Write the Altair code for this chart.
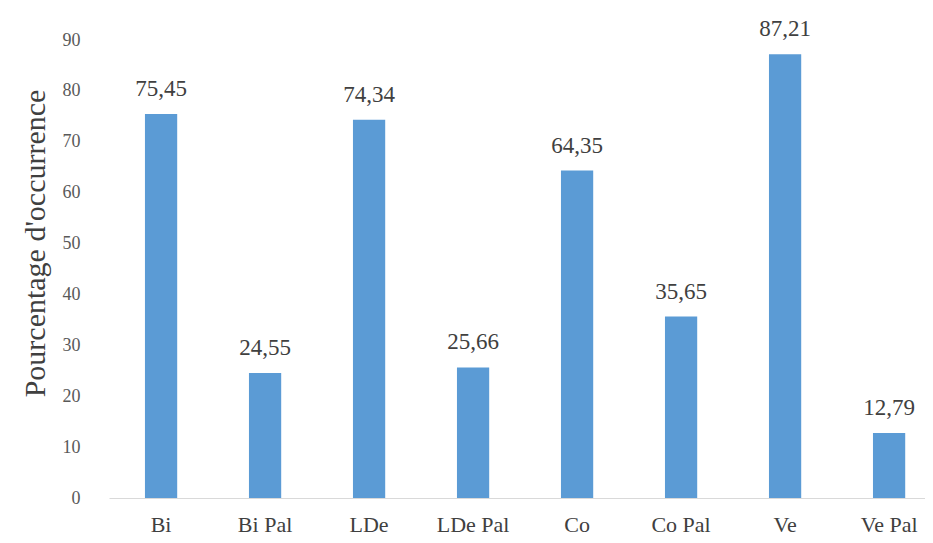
import altair as alt
import pandas as pd

categories = ["Bi", "Bi Pal", "LDe", "LDe Pal", "Co", "Co Pal", "Ve", "Ve Pal"]
values = [75.45, 24.55, 74.34, 25.66, 64.35, 35.65, 87.21, 12.79]
y_ticks = [0, 10, 20, 30, 40, 50, 60, 70, 80, 90]

df = pd.DataFrame({
    "cat": categories,
    "val": values,
    "lab": [f"{v:.2f}".replace(".", ",") for v in values],
})

FONT = "Liberation Serif, Times New Roman, serif"
W, H = 816, 458

x = alt.X("cat:N", sort=categories, title=None,
          scale=alt.Scale(paddingInner=0.69, paddingOuter=0.268, align=0.645),
          axis=alt.Axis(labelAngle=0, labelFont=FONT, labelFontSize=22, labelColor="#404040",
                        labelPadding=16, labelBaseline="top", ticks=False,
                        domainColor="#D9D9D9", domainWidth=1))
y = alt.Y("val:Q", title="Pourcentage d'occurrence",
          scale=alt.Scale(domain=[0, 90], nice=False),
          axis=alt.Axis(values=y_ticks, labelFont=FONT, labelFontSize=18, labelColor="#595959",
                        labelPadding=29, ticks=False, domain=False, grid=False,
                        titleFont=FONT, titleFontSize=30, titleFontWeight="normal",
                        titleColor="#404040", titleAngle=-90, titleBaseline="middle",
                        titleAlign="center", titleX=-74, titleY=203))

base = alt.Chart(df)
bars = base.mark_bar(color="#5B9BD5").encode(x=x, y=y)
texts = base.mark_text(font=FONT, fontSize=23, color="#404040", baseline="alphabetic", dy=-18).encode(
    x=alt.X("cat:N", sort=categories), y=alt.Y("val:Q"), text="lab:N")

chart = (bars + texts).properties(
    width=W, height=H,
    autosize=alt.AutoSizeParams(type="none"),
    padding={"left": 101, "top": 32, "right": 0, "bottom": 37},
).configure(
    background="white", font=FONT
).configure_view(stroke=None).configure_axis(labelFont=FONT, titleFont=FONT).configure_text(font=FONT)

chart.save("out.html", embed_options={"renderer": "svg", "actions": False})
